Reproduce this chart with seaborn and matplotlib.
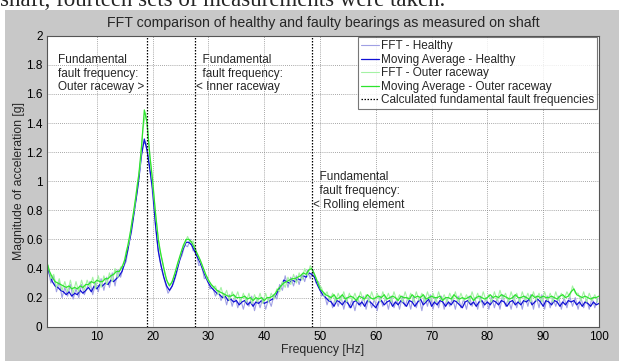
import matplotlib
matplotlib.use("Agg")
import matplotlib.pyplot as plt
import seaborn as sns
import numpy as np
import pandas as pd
from matplotlib.patches import Rectangle

# ---------------- data ----------------
freq_ma = np.arange(1.0, 100.01, 0.5)      # moving-average sample grid [Hz]
freq_fft = np.arange(1.25, 99.80, 0.5)     # raw FFT sample grid [Hz]

ma_healthy = [
    0.44, 0.36, 0.31, 0.28, 0.27, 0.25, 0.24, 0.22, 0.24, 0.21,
    0.23, 0.22, 0.25, 0.23, 0.25, 0.27, 0.24, 0.28, 0.26, 0.29,
    0.28, 0.30, 0.29, 0.32, 0.31, 0.33, 0.35, 0.38, 0.44, 0.52,
    0.62, 0.74, 0.87, 1.01, 1.18, 1.29, 1.21, 1.08, 0.94, 0.70,
    0.52, 0.42, 0.34, 0.28, 0.25, 0.28, 0.34, 0.41, 0.48, 0.54,
    0.58, 0.58, 0.56, 0.52, 0.48, 0.44, 0.39, 0.34, 0.30, 0.27,
    0.25, 0.23, 0.22, 0.20, 0.21, 0.18, 0.19, 0.17, 0.18, 0.15,
    0.17, 0.18, 0.15, 0.17, 0.14, 0.17, 0.16, 0.18, 0.16, 0.17,
    0.18, 0.19, 0.21, 0.25, 0.28, 0.32, 0.31, 0.30, 0.32, 0.31,
    0.33, 0.32, 0.35, 0.34, 0.37, 0.36, 0.34, 0.29, 0.25, 0.22,
    0.20, 0.18, 0.17, 0.14, 0.18, 0.17, 0.15, 0.18, 0.16, 0.13,
    0.17, 0.18, 0.15, 0.17, 0.14, 0.18, 0.17, 0.15, 0.13, 0.17,
    0.18, 0.15, 0.17, 0.18, 0.14, 0.17, 0.15, 0.18, 0.16, 0.14,
    0.18, 0.17, 0.14, 0.17, 0.19, 0.15, 0.17, 0.19, 0.14, 0.17,
    0.15, 0.18, 0.17, 0.14, 0.17, 0.15, 0.18, 0.17, 0.15, 0.13,
    0.17, 0.18, 0.15, 0.17, 0.14, 0.17, 0.18, 0.15, 0.17, 0.15,
    0.18, 0.17, 0.15, 0.18, 0.17, 0.14, 0.17, 0.18, 0.15, 0.17,
    0.15, 0.18, 0.17, 0.19, 0.15, 0.17, 0.19, 0.17, 0.14, 0.18,
    0.17, 0.15, 0.18, 0.17, 0.14, 0.17, 0.15, 0.18, 0.17, 0.18,
    0.15, 0.17, 0.14, 0.17, 0.16, 0.14, 0.17, 0.15, 0.16,
]

ma_outer = [
    0.45, 0.38, 0.34, 0.31, 0.30, 0.29, 0.28, 0.27, 0.28, 0.26,
    0.27, 0.26, 0.28, 0.27, 0.29, 0.29, 0.31, 0.30, 0.32, 0.31,
    0.31, 0.33, 0.33, 0.35, 0.36, 0.38, 0.38, 0.41, 0.46, 0.55,
    0.65, 0.77, 0.90, 1.04, 1.24, 1.49, 1.40, 1.17, 1.00, 0.78,
    0.60, 0.49, 0.40, 0.32, 0.28, 0.31, 0.37, 0.44, 0.50, 0.56,
    0.60, 0.60, 0.58, 0.54, 0.50, 0.46, 0.41, 0.36, 0.32, 0.29,
    0.27, 0.25, 0.24, 0.23, 0.22, 0.21, 0.21, 0.22, 0.20, 0.20,
    0.20, 0.21, 0.19, 0.20, 0.18, 0.20, 0.19, 0.20, 0.18, 0.20,
    0.20, 0.21, 0.23, 0.26, 0.28, 0.30, 0.31, 0.32, 0.33, 0.33,
    0.34, 0.35, 0.37, 0.36, 0.39, 0.40, 0.36, 0.31, 0.26, 0.24,
    0.22, 0.21, 0.20, 0.22, 0.19, 0.20, 0.22, 0.19, 0.20, 0.21,
    0.20, 0.18, 0.21, 0.20, 0.19, 0.22, 0.20, 0.19, 0.20, 0.21,
    0.20, 0.22, 0.19, 0.20, 0.21, 0.20, 0.18, 0.21, 0.20, 0.20,
    0.19, 0.22, 0.20, 0.21, 0.20, 0.22, 0.19, 0.20, 0.21, 0.20,
    0.20, 0.21, 0.18, 0.20, 0.20, 0.19, 0.22, 0.20, 0.19, 0.20,
    0.19, 0.20, 0.21, 0.18, 0.20, 0.21, 0.20, 0.19, 0.20, 0.22,
    0.20, 0.21, 0.20, 0.22, 0.21, 0.20, 0.19, 0.20, 0.22, 0.20,
    0.20, 0.21, 0.20, 0.19, 0.22, 0.20, 0.21, 0.20, 0.21, 0.20,
    0.20, 0.21, 0.20, 0.19, 0.21, 0.22, 0.20, 0.21, 0.24, 0.26,
    0.22, 0.21, 0.20, 0.21, 0.20, 0.19, 0.20, 0.20, 0.21,
]

fft_healthy = [
    0.40, 0.30, 0.35, 0.24, 0.31, 0.20, 0.27, 0.21, 0.29, 0.19,
    0.26, 0.20, 0.29, 0.22, 0.27, 0.31, 0.22, 0.30, 0.24, 0.33,
    0.25, 0.34, 0.27, 0.37, 0.28, 0.39, 0.34, 0.41, 0.45, 0.58,
    0.66, 0.82, 0.93, 1.12, 1.25, 1.27, 1.15, 1.00, 0.80, 0.60,
    0.46, 0.37, 0.30, 0.23, 0.26, 0.30, 0.36, 0.45, 0.49, 0.56,
    0.55, 0.60, 0.52, 0.53, 0.42, 0.43, 0.33, 0.34, 0.26, 0.27,
    0.21, 0.25, 0.18, 0.23, 0.15, 0.22, 0.14, 0.21, 0.13, 0.19,
    0.12, 0.20, 0.14, 0.21, 0.11, 0.19, 0.13, 0.20, 0.12, 0.19,
    0.14, 0.22, 0.19, 0.29, 0.25, 0.35, 0.27, 0.34, 0.28, 0.35,
    0.29, 0.36, 0.31, 0.39, 0.33, 0.39, 0.30, 0.31, 0.21, 0.23,
    0.15, 0.21, 0.13, 0.20, 0.14, 0.21, 0.12, 0.20, 0.13, 0.19,
    0.11, 0.20, 0.14, 0.21, 0.12, 0.20, 0.13, 0.19, 0.11, 0.21,
    0.14, 0.20, 0.12, 0.21, 0.13, 0.19, 0.12, 0.21, 0.14, 0.20,
    0.12, 0.21, 0.13, 0.20, 0.11, 0.21, 0.14, 0.22, 0.12, 0.20,
    0.13, 0.21, 0.12, 0.19, 0.14, 0.20, 0.12, 0.21, 0.13, 0.19,
    0.12, 0.21, 0.14, 0.20, 0.12, 0.21, 0.13, 0.20, 0.12, 0.21,
    0.13, 0.20, 0.12, 0.22, 0.14, 0.19, 0.12, 0.21, 0.13, 0.20,
    0.12, 0.21, 0.14, 0.22, 0.12, 0.21, 0.13, 0.22, 0.12, 0.21,
    0.13, 0.20, 0.14, 0.21, 0.12, 0.20, 0.13, 0.21, 0.14, 0.20,
    0.12, 0.20, 0.13, 0.19, 0.12, 0.20, 0.13, 0.19,
]

fft_outer = [
    0.42, 0.33, 0.36, 0.27, 0.33, 0.25, 0.31, 0.24, 0.32, 0.23,
    0.31, 0.24, 0.32, 0.25, 0.32, 0.27, 0.34, 0.26, 0.35, 0.27,
    0.35, 0.29, 0.37, 0.31, 0.40, 0.34, 0.41, 0.42, 0.52, 0.58,
    0.72, 0.82, 0.99, 1.10, 1.36, 1.47, 1.28, 1.08, 0.88, 0.69,
    0.53, 0.45, 0.35, 0.30, 0.29, 0.34, 0.40, 0.46, 0.53, 0.57,
    0.62, 0.58, 0.59, 0.52, 0.48, 0.43, 0.38, 0.33, 0.30, 0.27,
    0.28, 0.22, 0.27, 0.20, 0.25, 0.18, 0.24, 0.19, 0.24, 0.17,
    0.23, 0.17, 0.23, 0.16, 0.22, 0.17, 0.23, 0.16, 0.23, 0.17,
    0.23, 0.19, 0.26, 0.24, 0.31, 0.27, 0.34, 0.29, 0.36, 0.30,
    0.37, 0.32, 0.40, 0.35, 0.42, 0.38, 0.34, 0.29, 0.27, 0.21,
    0.24, 0.18, 0.23, 0.17, 0.23, 0.18, 0.24, 0.17, 0.23, 0.18,
    0.23, 0.17, 0.24, 0.18, 0.22, 0.17, 0.24, 0.18, 0.23, 0.17,
    0.24, 0.18, 0.23, 0.17, 0.24, 0.18, 0.22, 0.17, 0.24, 0.18,
    0.23, 0.17, 0.24, 0.18, 0.23, 0.17, 0.24, 0.18, 0.23, 0.17,
    0.24, 0.18, 0.22, 0.17, 0.23, 0.18, 0.24, 0.17, 0.23, 0.18,
    0.22, 0.17, 0.24, 0.18, 0.23, 0.17, 0.24, 0.18, 0.22, 0.17,
    0.24, 0.18, 0.25, 0.19, 0.23, 0.17, 0.24, 0.18, 0.23, 0.17,
    0.24, 0.18, 0.23, 0.17, 0.24, 0.18, 0.23, 0.17, 0.24, 0.18,
    0.23, 0.17, 0.24, 0.18, 0.23, 0.19, 0.24, 0.20, 0.28, 0.23,
    0.23, 0.18, 0.24, 0.17, 0.23, 0.18, 0.22, 0.17,
]

fault_freqs = [18.9, 27.6, 48.5]
fault_labels = ["Fundamental\nfault frequency:\nOuter raceway >",
                "  Fundamental\n  fault frequency:\n< Inner raceway",
                "  Fundamental\n  fault frequency:\n< Rolling element"]

series_names = ["FFT - Healthy", "Moving Average - Healthy",
                "FFT - Outer raceway", "Moving Average - Outer raceway"]
x_ticks = [10, 20, 30, 40, 50, 60, 70, 80, 90, 100]
y_ticks = [0, 0.2, 0.4, 0.6, 0.8, 1.0, 1.2, 1.4, 1.6, 1.8, 2.0]
y_tick_labels = ["0", "0.2", "0.4", "0.6", "0.8", "1", "1.2", "1.4", "1.6", "1.8", "2"]

# ---------------- style ----------------
sns.set_style("white")
plt.rcParams["font.family"] = ["Liberation Sans", "DejaVu Sans"]

W, H = 619, 361
fig = plt.figure(figsize=(W / 100, H / 100), dpi=100, facecolor="white")

# grey MATLAB-style figure background (white strip on top and left from page)
fig.patches.append(Rectangle((5 / W, 0), 1 - 5 / W, (H - 10) / H,
                             transform=fig.transFigure, facecolor="#c8c8c8",
                             edgecolor="none", zorder=-1))
fig.text(0, 1 - 6.5 / H, "shaft, fourteen sets of measurements were taken.",
         family="Liberation Serif", fontsize=16.5, va="baseline", ha="left",
         zorder=-2)

ax = fig.add_axes([46.7 / W, 1 - 326.7 / H, (599 - 46.7) / W, (326.7 - 35.7) / H])
ax.set_facecolor("white")

colors = ["#a0a0e4", "#1010d4", "#a4f2a4", "#2ee42e"]
widths = [0.8, 0.9, 0.8, 0.9]
data_sets = [(freq_fft, fft_healthy), (freq_ma, ma_healthy),
             (freq_fft, fft_outer), (freq_ma, ma_outer)]
for (xs, ys), name, c, lw in zip(data_sets, series_names, colors, widths):
    df = pd.DataFrame({"f": xs, "a": ys})
    sns.lineplot(data=df, x="f", y="a", ax=ax, color=c, linewidth=lw,
                 label=name, estimator=None, sort=False)

for i, ff in enumerate(fault_freqs):
    ax.axvline(ff, color="black", linestyle=(0, (1.2, 1.2)), linewidth=0.9,
               label="Calculated fundamental fault frequencies" if i == 0 else None)

ax.set_xlim(1, 100)
ax.set_ylim(0, 2)
ax.set_xticks(x_ticks)
ax.set_yticks(y_ticks)
ax.set_yticklabels(y_tick_labels)
ax.grid(True, color="#8a8a8a", linestyle=(0, (1, 1.5)), linewidth=0.6)
ax.tick_params(direction="in", length=3, labelsize=8.5, colors="#333333",
               labelcolor="black", pad=3)
for s in ax.spines.values():
    s.set_color("#555555")
    s.set_linewidth(0.8)

ax.set_title("FFT comparison of healthy and faulty bearings as measured on shaft",
             fontsize=10.2, pad=6)
ax.set_xlabel("Frequency [Hz]", fontsize=8.8, labelpad=1)
ax.set_ylabel("Magnitude of acceleration [g]", fontsize=8.8, labelpad=1)

# annotations
ax.text(3.0, 1.875, fault_labels[0], fontsize=8.5, va="top", ha="left",
        linespacing=1.2)
ax.text(27.8, 1.875, fault_labels[1], fontsize=8.5, va="top", ha="left",
        linespacing=1.2)
ax.text(48.7, 1.07, fault_labels[2], fontsize=8.5, va="top", ha="left",
        linespacing=1.2)

leg = ax.legend(loc="upper right", fontsize=8.5, frameon=True, fancybox=False,
                handlelength=1.5, handletextpad=0.2, borderpad=0.25,
                labelspacing=0.12, borderaxespad=0.15)
leg.get_frame().set_edgecolor("#555555")
leg.get_frame().set_linewidth(0.8)

fig.savefig("out.png", dpi=100, facecolor=fig.get_facecolor())
